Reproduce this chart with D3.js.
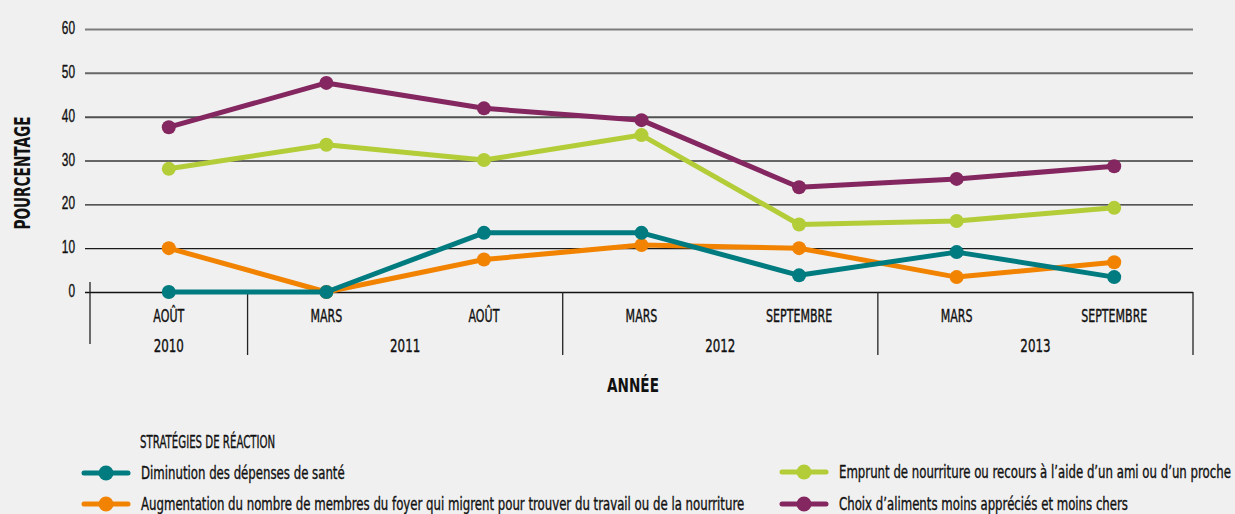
<!DOCTYPE html>
<html>
<head>
<meta charset="utf-8">
<script src="https://cdn.jsdelivr.net/npm/d3@7"></script>
<style>
  html, body { margin: 0; padding: 0; background: #f0f0f0; }
  svg { display: block; font-family: "DejaVu Sans", sans-serif; }
  .med { stroke: #111; stroke-width: 0.4px; }
</style>
</head>
<body>
<svg id="chart" width="1235" height="514"></svg>
<script>
// Survey rounds (month, year) and the share of households using each coping strategy (%)
const months = ["AOÛT", "MARS", "AOÛT", "MARS", "SEPTEMBRE", "MARS", "SEPTEMBRE"];
const years = [
  { label: "2010", start: 0, end: 1 },
  { label: "2011", start: 1, end: 3 },
  { label: "2012", start: 3, end: 5 },
  { label: "2013", start: 5, end: 7 }
];
const yTicks = [0, 10, 20, 30, 40, 50, 60];

const santeValues     = [0, 0, 13.5, 13.5, 3.8, 9.1, 3.4];
const migrationValues = [10, 0, 7.4, 10.7, 10, 3.4, 6.8];
const empruntValues   = [28.1, 33.6, 30.1, 35.8, 15.4, 16.2, 19.2];
const alimentsValues  = [37.6, 47.7, 41.9, 39.2, 23.9, 25.8, 28.7];

const seriesNames = [
  "Diminution des dépenses de santé",
  "Augmentation du nombre de membres du foyer qui migrent pour trouver du travail ou de la nourriture",
  "Emprunt de nourriture ou recours à l’aide d’un ami ou d’un proche",
  "Choix d’aliments moins appréciés et moins chers"
];
const seriesColors = ["#007b7f", "#f18300", "#b2cd37", "#84265f"];
const seriesValues = [santeValues, migrationValues, empruntValues, alimentsValues];

const series = seriesNames.map((name, i) => ({ name, color: seriesColors[i], values: seriesValues[i] }));

const svg = d3.select("#chart");

// Squeeze text horizontally around its anchor to get a condensed face out of the installed sans
function condense(sel, k) {
  sel.each(function () {
    const t = d3.select(this);
    const tx = +(t.attr("x") || 0), ty = +(t.attr("y") || 0);
    const prev = t.attr("transform") || "";
    t.attr("x", 0).attr("y", 0)
      .attr("transform", `${prev} translate(${tx},${ty}) scale(${k},1)`.trim());
  });
  return sel;
}

const x = d3.scaleBand().domain(d3.range(months.length)).range([90, 1193]).padding(0);
const xc = i => x(i) + x.bandwidth() / 2;
const y = d3.scaleLinear().domain([0, 60]).range([292, 29]);
const gridShade = d3.scaleLinear().domain([0, 20, 60]).range(["#111", "#222", "#7d7d7d"]);

// Horizontal grid lines with value labels
const yAxis = svg.append("g")
  .attr("transform", "translate(1193,0)")
  .call(d3.axisLeft(y).tickValues(yTicks).tickSize(1108).tickPadding(10).tickFormat(d3.format("d")));
yAxis.select(".domain").remove();
yAxis.selectAll(".tick line")
  .attr("stroke", d => gridShade(d))
  .attr("stroke-width", d => d >= 40 ? 2 : 1.3);
const tickText = yAxis.selectAll(".tick text")
  .attr("class", "med")
  .attr("fill", "#111")
  .attr("font-family", null)
  .attr("font-size", null)
  .style("font-size", "18.5px")
  .attr("dy", "0.25em");
condense(tickText, 0.64);

// Category frame: left edge, year separators
const frame = svg.append("g").attr("stroke", "#222").attr("stroke-width", 1.3);
frame.append("line").attr("x1", x(0)).attr("x2", x(0)).attr("y1", 282).attr("y2", 344);
years.forEach(yr => {
  frame.append("line")
    .attr("x1", x(yr.end - 1) + x.bandwidth()).attr("x2", x(yr.end - 1) + x.bandwidth())
    .attr("y1", y(0)).attr("y2", 355);
});

// Month labels
const monthText = svg.append("g").selectAll("text").data(months).join("text")
  .attr("class", "med")
  .attr("x", (d, i) => xc(i)).attr("y", 322)
  .attr("text-anchor", "middle").attr("fill", "#111")
  .style("font-size", "17px")
  .text(d => d);
condense(monthText, 0.65);

// Year labels centred under their months
const yearText = svg.append("g").selectAll("text").data(years).join("text")
  .attr("class", "med")
  .attr("x", d => (x(d.start) + x(d.end - 1) + x.bandwidth()) / 2).attr("y", 352)
  .attr("text-anchor", "middle").attr("fill", "#111")
  .style("font-size", "18.5px")
  .text(d => d.label);
condense(yearText, 0.64);

// Axis titles
const xTitle = svg.append("text").attr("x", 633).attr("y", 392)
  .attr("text-anchor", "middle").attr("fill", "#111")
  .style("font-size", "20px").style("font-weight", "bold")
  .text("ANNÉE");
condense(xTitle, 0.68);
const yTitle = svg.append("text").attr("transform", "translate(29.5,173) rotate(-90)")
  .attr("text-anchor", "middle").attr("fill", "#111")
  .style("font-size", "22px").style("font-weight", "bold")
  .text("POURCENTAGE");
condense(yTitle, 0.62);

// Lines and markers, drawn so the first series sits on top
const line = d3.line().x((d, i) => xc(i)).y(d => y(d));
const drawOrder = [3, 2, 1, 0];
drawOrder.forEach(k => {
  const s = series[k];
  const g = svg.append("g");
  g.append("path").datum(s.values)
    .attr("d", line).attr("fill", "none")
    .attr("stroke", s.color).attr("stroke-width", 5).attr("stroke-linejoin", "round");
  g.selectAll("circle").data(s.values).join("circle")
    .attr("cx", (d, i) => xc(i)).attr("cy", d => y(d)).attr("r", 7)
    .attr("fill", s.color);
});

// Legend
const legendTitle = svg.append("text").attr("class", "med")
  .attr("x", 140).attr("y", 448).attr("fill", "#111")
  .style("font-size", "18px").text("STRATÉGIES DE RÉACTION");
condense(legendTitle, 0.567);
const legendPos = [
  { x: 84, y: 473 }, { x: 84, y: 504 }, { x: 782, y: 472 }, { x: 782, y: 504 }
];
series.forEach((s, i) => {
  const p = legendPos[i];
  const g = svg.append("g").attr("transform", `translate(${p.x},${p.y})`);
  g.append("line").attr("x1", 0).attr("x2", 44).attr("y1", 0).attr("y2", 0)
    .attr("stroke", s.color).attr("stroke-width", 5).attr("stroke-linecap", "round");
  g.append("circle").attr("cx", 22).attr("cy", 0).attr("r", 7.5).attr("fill", s.color);
  const t = g.append("text").attr("class", "med")
    .attr("x", 57).attr("y", 5.5).attr("fill", "#111")
    .style("font-size", "17.5px").text(s.name);
  condense(t, 0.672);
});
</script>
</body>
</html>
